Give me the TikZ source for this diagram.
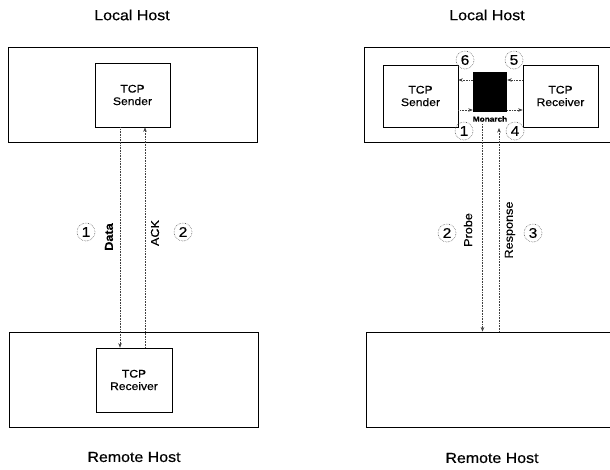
\documentclass[tikz,border=0pt]{standalone}
\usepackage{fontspec}
\setmainfont{Liberation Sans}[FakeStretch=1.1, FakeBold=0.5]
\usetikzlibrary{arrows.meta}
\tikzset{
  hostbox/.style={draw=black, line width=0.8pt, minimum width=249pt, minimum height=95pt, inner sep=0pt},
  tcpbox/.style={draw=black, line width=0.7pt, minimum width=75pt, minimum height=64pt, inner sep=0pt, align=center, font=\fontsize{11}{12.5}\selectfont},
  title/.style={font=\fontsize{14.5}{16}\selectfont, inner sep=0pt},
  flow/.style={draw=black!55, line width=0.6pt, densely dotted},
  arr/.style={flow, -{Stealth[length=4.5pt,width=3.5pt]}, black!75},
  numc/.style={circle, draw=black!60, densely dotted, line width=0.6pt, minimum size=18pt, inner sep=0pt, font=\fontsize{14}{14}\selectfont},
  vlab/.style={rotate=90, font=\fontsize{11.5}{12}\selectfont, inner sep=0pt},
}
\begin{document}
\begin{tikzpicture}[x=1pt, y=-1pt]
\useasboundingbox (0,0) rectangle (610,470);
\clip (0,0) rectangle (610,470);
\fill[white] (0,0) rectangle (610,470);

% ---------- left panel ----------
\node[title] (ltitle) at (132,15) {Local Host};
\node[hostbox] (lhost) at (132.5,94.5) {};
\node[tcpbox] (lsend) at (132.5,95) {TCP\\Sender};
\node[hostbox] (lremote) at (133.5,379.5) {};
\node[tcpbox, minimum width=76pt] (lrecv) at (134,380) {TCP\\Receiver};
\node[title] (lrtitle) at (134,457) {Remote Host};

\coordinate (dataX) at (120,0);
\coordinate (ackX) at (145,0);
\draw[arr] (lsend.south -| dataX) -- (lrecv.north -| dataX);
\draw[arr] (lrecv.north -| ackX) -- (lsend.south -| ackX);

\node[numc] (n1l) at (86,232) {1};
\node[vlab] (ldata) at (109,237) {\bfseries Data};
\node[vlab] (lack) at (155,233) {ACK};
\node[numc] (n2l) at (183,232) {2};

% ---------- right panel ----------
\node[title] (rtitle) at (487,15) {Local Host};
\node[hostbox, minimum width=256pt] (rhost) at (492,94.5) {};
\node[tcpbox, minimum height=62pt] (rsend) at (420.5,96) {TCP\\Sender};
\node[tcpbox, minimum height=62pt] (rrecv) at (560.5,96) {TCP\\Receiver};
\node[fill=black, minimum width=34pt, minimum height=40pt, inner sep=0pt] (mon) at (490,92) {};
\node[font=\bfseries\fontsize{7.5}{8}\selectfont, inner sep=0pt] (monlab) at (490,119) {Monarch};
\node[hostbox, minimum width=254pt] (rremote) at (493,379.5) {};
\node[title] (rrtitle) at (492,458) {Remote Host};

\coordinate (ytop) at (0,80);
\coordinate (ybot) at (0,110);
\draw[arr] (mon.west |- ytop) -- (rsend.east |- ytop);
\draw[arr] (rrecv.west |- ytop) -- (mon.east |- ytop);
\draw[arr] (rsend.east |- ybot) -- (mon.west |- ybot);
\draw[arr] (mon.east |- ybot) -- (rrecv.west |- ybot);

\node[numc] (n6) at (465,60) {6};
\node[numc] (n5) at (514,60) {5};
\node[numc] (n1r) at (464,131) {1};
\node[numc] (n4) at (515,131) {4};

\coordinate (pstart) at (482.5,124);
\coordinate (rend) at (499,128);
\draw[arr] (pstart) -- (rremote.north -| pstart);
\draw[arr] (rremote.north -| rend) -- (rend);

\node[numc] (n2r) at (447,233) {2};
\node[vlab] (rprobe) at (468,230) {Probe};
\node[vlab] (rresp) at (510,230) {Response};
\node[numc] (n3r) at (533,233) {3};
\end{tikzpicture}
\end{document}
